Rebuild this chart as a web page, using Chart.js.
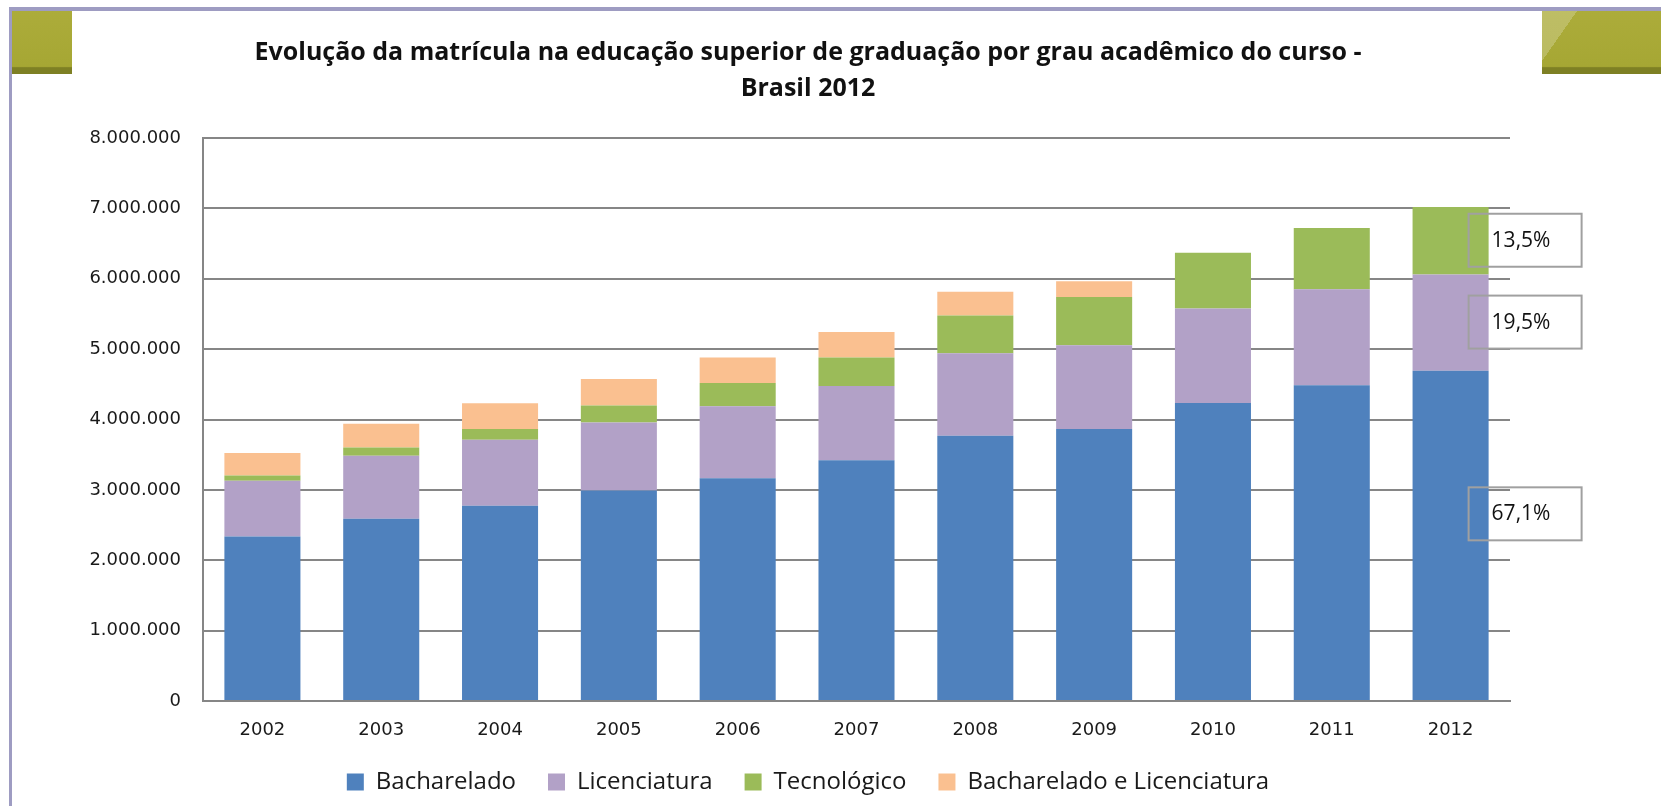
<!DOCTYPE html>
<html>
<head>
<meta charset="utf-8">
<title>Evolução da matrícula - Brasil 2012</title>
<script src="https://cdn.jsdelivr.net/npm/chart.js@4.4.0/dist/chart.umd.min.js"></script>
<style>
  html, body { margin: 0; padding: 0; background: #fff; }
  #wrap { position: relative; width: 1661px; height: 806px; overflow: hidden; }
  #chart { position: absolute; left: 0; top: 0; }
  .frame-top { position: absolute; left: 9px; top: 7px; width: 1652px; height: 4px; background: #9e9cc2; }
  .frame-left { position: absolute; left: 9px; top: 7px; width: 3px; height: 799px; background: #9e9cc2; }
  .tab { position: absolute; top: 11px; height: 63px;
    background: linear-gradient(to bottom, #acac3a 0, #a6a734 88%, #7e8024 90%, #7e8024 100%); }
  .tab-left { left: 12px; width: 60px; }
  .tab-right { left: 1542px; width: 119px; }
  .tab-right::after { content: ''; position: absolute; left: 0; top: 0; right: 0; bottom: 6px;
    background: linear-gradient(125deg, rgba(255,255,255,0.22) 0, rgba(255,255,255,0.22) 22%, rgba(255,255,255,0) 22%); }
</style>
</head>
<body>
<div id="wrap">
  <canvas id="chart" width="1661" height="806"></canvas>
  <div class="frame-top"></div>
  <div class="frame-left"></div>
  <div class="tab tab-left"></div>
  <div class="tab tab-right"></div>
</div>
<script>
const years = ['2002', '2003', '2004', '2005', '2006', '2007', '2008', '2009', '2010', '2011', '2012'];

// matriculas por grau academico (segmentos empilhados)
const bacharelado = [2337000, 2589000, 2774000, 2991000, 3164000, 3420000, 3770000, 3865000, 4235000, 4485000, 4694000];
const licenciatura = [792000, 896000, 939000, 968000, 1024000, 1055000, 1170000, 1189000, 1341000, 1366000, 1366000];
const tecnologico = [76000, 118000, 152000, 241000, 332000, 405000, 537000, 688000, 792000, 869000, 960000];
const bachLic = [318000, 337000, 365000, 377000, 360000, 363000, 337000, 223000, 0, 0, 0];

// participacao em 2012 (Bacharelado, Licenciatura, Tecnologico)
const shareLabels = ['67,1%', '19,5%', '13,5%'];
const shareOffsets = [-21, 0, 0];

const yMax = 8000000;
const yStep = 1000000;

function formatThousands(v) {
  return v.toString().replace(/\B(?=(\d{3})+(?!\d))/g, '.');
}

// caixas com o percentual ao lado da barra de 2012
const shareBoxes = {
  id: 'shareBoxes',
  afterDatasetsDraw(chart) {
    const ctx = chart.ctx;
    const last = years.length - 1;
    ctx.save();
    shareLabels.forEach((label, i) => {
      const el = chart.getDatasetMeta(i).data[last];
      const left = el.x + el.width / 2 - 20;
      const mid = (el.y + el.base) / 2 + shareOffsets[i];
      ctx.strokeStyle = '#a0a0a0';
      ctx.lineWidth = 2;
      ctx.strokeRect(left, mid - 27, 113, 53);
      ctx.fillStyle = '#111';
      ctx.font = '21px "Open Sans"';
      ctx.textAlign = 'left';
      ctx.textBaseline = 'middle';
      ctx.fillText(label, left + 23, mid);
    });
    ctx.restore();
  }
};

// altura fixa da legenda
const legendHeight = {
  id: 'legendHeight',
  beforeInit(chart) {
    const fit = chart.legend.fit;
    chart.legend.fit = function () {
      fit.call(this);
      this.height = 68;
    };
  }
};

// titulo e legenda centrados um pouco a direita, como no original
const centerShift = {
  id: 'centerShift',
  afterLayout(chart) {
    [chart.titleBlock, chart.legend].forEach(box => {
      box.left += 13;
      box.right += 13;
    });
  }
};

const ctx = document.getElementById('chart').getContext('2d');
new Chart(ctx, {
  type: 'bar',
  data: {
    labels: years,
    datasets: [
      { label: 'Bacharelado', data: bacharelado, backgroundColor: '#4f81bd', borderWidth: 0 },
      { label: 'Licenciatura', data: licenciatura, backgroundColor: '#b2a1c7', borderWidth: 0 },
      { label: 'Tecnológico', data: tecnologico, backgroundColor: '#9bbb59', borderWidth: 0 },
      { label: 'Bacharelado e Licenciatura', data: bachLic, backgroundColor: '#fac090', borderWidth: 0 }
    ]
  },
  options: {
    responsive: false,
    animation: false,
    barPercentage: 0.64,
    categoryPercentage: 1.0,
    layout: {
      padding: { left: 80, right: 151, top: 0, bottom: 0 }
    },
    scales: {
      x: {
        stacked: true,
        grid: { display: false, drawTicks: false },
        border: { color: '#868686', width: 2 },
        ticks: {
          padding: 19,
          color: '#1a1a1a',
          font: { family: 'DejaVu Sans', size: 18 }
        },
        afterFit: (axis) => { axis.height = 37; }
      },
      y: {
        stacked: true,
        min: 0,
        max: yMax,
        grid: { color: '#868686', lineWidth: 2, drawTicks: false },
        border: { color: '#868686', width: 2 },
        ticks: {
          stepSize: yStep,
          padding: 22,
          color: '#1a1a1a',
          font: { family: 'DejaVu Sans', size: 18 },
          callback: (value) => formatThousands(value)
        },
        afterFit: (axis) => { axis.width = 123; }
      }
    },
    plugins: {
      title: {
        display: true,
        text: ['Evolução da matrícula na educação superior de graduação por grau acadêmico do curso -', 'Brasil 2012'],
        color: '#111',
        font: { family: 'Open Sans', size: 25, weight: 'bold', lineHeight: 1.44 },
        padding: { top: 35, bottom: 31 }
      },
      legend: {
        position: 'bottom',
        labels: {
          boxWidth: 17,
          boxHeight: 17,
          padding: 32,
          color: '#1a1a1a',
          font: { family: 'Open Sans', size: 24 }
        }
      },
      tooltip: { enabled: false }
    }
  },
  plugins: [shareBoxes, legendHeight, centerShift]
});
</script>
</body>
</html>
